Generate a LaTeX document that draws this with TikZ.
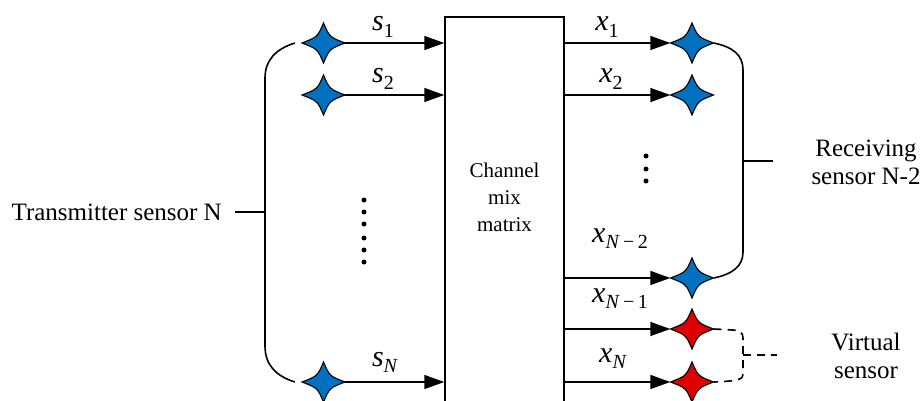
\documentclass[tikz,border=0pt]{standalone}
\usepackage{fontspec}
\setmainfont{Liberation Serif}
\usetikzlibrary{arrows.meta,calc}
\definecolor{starblue}{RGB}{0,112,192}
\definecolor{starred}{RGB}{222,0,0}
\tikzset{
  pics/sensorstar/.style={
    code={
      \fill[#1,draw=black,line width=1.1pt,line join=miter]
        (21.5,0) .. controls (6,6) .. (0,20)
        .. controls (-6,6) .. (-21.5,0)
        .. controls (-6,-6) .. (0,-20)
        .. controls (6,-6) .. cycle;
      \node[inner sep=0pt,minimum width=43pt,minimum height=40pt] (-c) {};
    }
  },
  sig/.style={line width=1.5pt,-{Triangle[length=20pt,width=14pt]}},
  brk/.style={line width=1.6pt},
  dbrk/.style={line width=1.6pt,dash pattern=on 8pt off 6pt},
  lbl/.style={font=\fontsize{25}{28}\selectfont,align=center,inner sep=0pt},
  var/.style={font=\fontsize{30}{32}\selectfont,inner sep=0pt,anchor=base},
  dotn/.style={circle,fill=black,inner sep=0pt,minimum size=5pt},
}
\newcommand{\sub}[1]{\raisebox{-0.45ex}{\fontsize{20}{21}\selectfont #1}}
\begin{document}
\begin{tikzpicture}[x=1pt,y=-1pt]
\useasboundingbox (0,0) rectangle (920,401);
% box
\node[draw,line width=1.5pt,minimum width=119pt,minimum height=390pt,inner sep=0pt] (box) at (504.5,212) {};
\node[font=\fontsize{21}{27}\selectfont,align=center,inner sep=0pt] (boxtxt) at (504.5,197) {Channel\\mix\\matrix};
% left stars
\pic (L1) at (323.5,43) {sensorstar=starblue};
\pic (L2) at (323.5,95) {sensorstar=starblue};
\pic (LN) at (323.5,382) {sensorstar=starblue};
% right stars
\pic (R1) at (692,43) {sensorstar=starblue};
\pic (R2) at (692,95) {sensorstar=starblue};
\pic (R3) at (692,278) {sensorstar=starblue};
\pic (V1) at (692,329) {sensorstar=starred};
\pic (V2) at (692,382) {sensorstar=starred};
% input arrows
\draw[sig] (L1-c.east) -- (L1-c.east -| box.west);
\draw[sig] (L2-c.east) -- (L2-c.east -| box.west);
\draw[sig] (LN-c.east) -- (LN-c.east -| box.west);
% output arrows
\draw[sig] (R1-c.west -| box.east) -- (R1-c.west);
\draw[sig] (R2-c.west -| box.east) -- (R2-c.west);
\draw[sig] (R3-c.west -| box.east) -- (R3-c.west);
\draw[sig] (V1-c.west -| box.east) -- (V1-c.west);
\draw[sig] (V2-c.west -| box.east) -- (V2-c.west);
% labels
\node[var] (ls1) at (383,31) {\textit{s}\sub{1}};
\node[var] (ls2) at (383,83) {\textit{s}\sub{2}};
\node[var] (lsN) at (385,366) {\textit{s}\sub{\textit{N}}};
\node[var] (lx1) at (607,31) {\textit{x}\sub{1}};
\node[var] (lx2) at (611,83) {\textit{x}\sub{2}};
\node[var] (lx3) at (620,242) {\textit{x}\sub{\textit{N}\,−\,2}};
\node[var] (lx4) at (620,302) {\textit{x}\sub{\textit{N}\,−\,1}};
\node[var] (lx5) at (613,362) {\textit{x}\sub{\textit{N}}};
% dots
\foreach \y [count=\i] in {200,212,224,238,250,262} \node[dotn] (ld\i) at (364,\y) {};
\foreach \y [count=\i] in {156,169,181} \node[dotn] (rd\i) at (646,\y) {};
% left bracket
\coordinate (lb1) at ($(L1-c.west)+(-7,0)$);
\coordinate (lb2) at ($(LN-c.west)+(-7,0)$);
\coordinate (lmid) at (265,212);
\draw[brk] (lb1) .. controls (276,49) and (265,60) .. (265,78) -- (265,346) .. controls (265,365) and (276,376) .. (lb2);
\node[lbl,anchor=east] (tx) at (222,212) {Transmitter sensor N};
\draw[brk] (tx.east) ++(13,0) coordinate (txe) -- (lmid);
% right bracket
\coordinate (rmid) at (743,161);
\draw[brk] (R1-c.east) .. controls (733,47) and (743,55) .. (743,70) -- (743,252) .. controls (743,266) and (733,274) .. (R3-c.east);
\coordinate (rtick) at (773,161);
\draw[brk] (rmid) -- (rtick);
\node[lbl] (rx) at (866,162) {Receiving\\sensor N-2};
% virtual bracket
\draw[dbrk] (V1-c.east) -- (733,330) .. controls (740,330) and (743,333) .. (743,338) -- (743,374) .. controls (743,379) and (740,381) .. (V2-c.east);
\coordinate (vmid) at (743,355);
\coordinate (vtick) at (777,355);
\draw[dbrk] (vmid) -- (vtick);
\node[lbl] (vx) at (866,356) {Virtual\\sensor};
\end{tikzpicture}
\end{document}
